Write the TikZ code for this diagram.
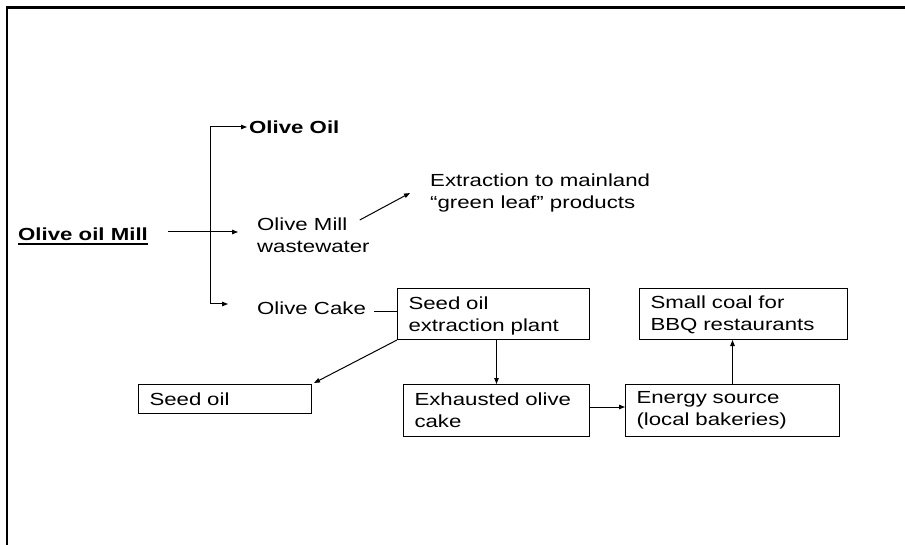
\documentclass[tikz,border=0pt]{standalone}
\usepackage{fontspec}
\setmainfont[FakeStretch=1.27]{Liberation Sans}
\usetikzlibrary{arrows.meta}

% bold heading with a heavier underline
\newcommand\headul[1]{\setbox0\hbox{\textbf{#1}}\rlap{\rule[-4.3pt]{\wd0}{1.8pt}}\box0}

\begin{document}
\begin{tikzpicture}[x=1pt,y=-1pt,
  every node/.style={font=\fontsize{17.5}{22}\selectfont, inner sep=0pt},
  lbl/.style={align=left},
  box/.style={draw, line width=1pt, align=left, anchor=north west,
    inner xsep=11pt, inner ysep=0pt},
  conn/.style={line width=1pt},
  arr/.style={conn, -{Triangle[length=6pt,width=4.5pt]}}]

% page size and frame
\useasboundingbox (0,0) rectangle (905,545);
\draw[line width=2.2pt] (7,545) -- (7,7.5) -- (905,7.5);

% mill and its three outputs
\node[anchor=base west] (mill) at (18,241) {\headul{Olive oil Mill}};
\node[anchor=base west] (oil) at (249,134) {\textbf{Olive Oil}};
\node[lbl, anchor=west] (ww) at (257,235.6) {Olive Mill\\wastewater};
\node[lbl, anchor=west] (ext) at (430,193) {Extraction to mainland\\``green leaf'' products};
\node[anchor=base west] (cake) at (257,315) {Olive Cake};

% processing chain boxes
\node[box, minimum width=192pt, minimum height=51pt, text width=170pt] (plant) at (397,288)
  {\rule{0pt}{16pt}Seed oil\\extraction plant};
\node[box, minimum width=173pt, minimum height=29pt, text width=151pt] (seed) at (138,384)
  {Seed oil};
\node[box, minimum width=186pt, minimum height=52pt, text width=164pt] (exh) at (403,384)
  {Exhausted olive\\cake};
\node[box, minimum width=214pt, minimum height=52pt, text width=192pt] (energy) at (625,384)
  {Energy source\\(local bakeries)};
\node[box, minimum width=208pt, minimum height=51pt, text width=186pt] (coal) at (639,288)
  {\rule{0pt}{15pt}Small coal for\\BBQ restaurants};

% branching from the mill
\coordinate (split) at (210,232);
\coordinate (jt) at (210,127);
\coordinate (jb) at (210,304);
\draw[conn] (jt) -- (jb);
\draw[arr, shorten <=20pt, shorten >=19pt] (mill.east |- split) -- (ww.west |- split);
\draw[arr, shorten >=2pt] (jt) -- (oil.west |- jt);
\draw[arr, shorten >=29pt] (jb) -- (cake.west |- jb);
\draw[arr] ([shift={(-10,2)}]ww.north east) -- ([shift={(-20,0)}]ext.west);

% olive cake processing
\draw[conn, shorten <=8pt] (cake.east |- 0,312) -- (plant.west |- 0,312);
\draw[arr] (plant.south west) -- ([shift={(2,-1)}]seed.north east);
\draw[arr] (plant.south -| exh.north) -- (exh.north);
\draw[arr] (exh.east |- 0,407) -- (energy.west |- 0,407);
\draw[arr] (energy.north) -- (energy.north |- coal.south);
\end{tikzpicture}
\end{document}
